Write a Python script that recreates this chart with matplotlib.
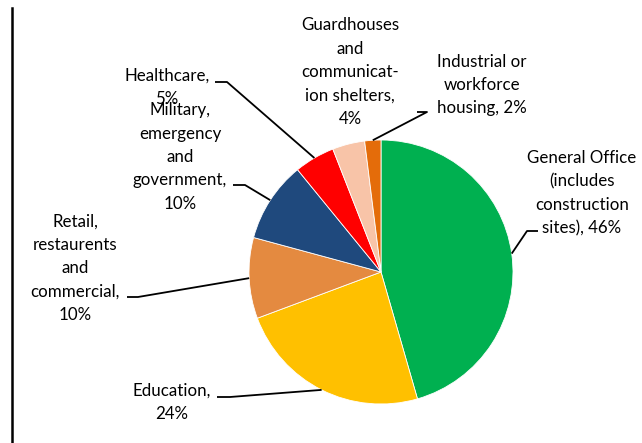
import numpy as np
import matplotlib.pyplot as plt

# Building types and their share of installations (percent)
categories = [
    "General Office\n(includes\nconstruction\nsites)",
    "Education",
    "Retail,\nrestaurents\nand\ncommercial",
    "Military,\nemergency\nand\ngovernment",
    "Healthcare",
    "Guardhouses\nand\ncommunicat-\nion shelters",
    "Industrial or\nworkforce\nhousing",
]
shares = [46, 24, 10, 10, 5, 4, 2]
colors = ["#00B050", "#FFC000", "#E48A40", "#1F497D", "#FF0000", "#F8C4A8", "#E46C0A"]

# Data label text: category name followed by its share
label_texts = [
    "General Office\n(includes\nconstruction\nsites), 46%",
    "Education,\n24%",
    "Retail,\nrestaurents\nand\ncommercial,\n10%",
    "Military,\nemergency\nand\ngovernment,\n10%",
    "Healthcare,\n5%",
    "Guardhouses\nand\ncommunicat-\nion shelters,\n4%",
    "Industrial or\nworkforce\nhousing, 2%",
]

W, H = 642, 443
fig = plt.figure(figsize=(W / 100, H / 100), dpi=100)
ax = fig.add_axes([0, 0, 1, 1])

cx, cy, r = 381, 171, 132
wedges, _ = ax.pie(
    shares, colors=colors, startangle=90, counterclock=False,
    center=(cx, cy), radius=r, frame=True,
    wedgeprops=dict(edgecolor="white", linewidth=0.6),
)
ax.set_xlim(0, W)
ax.set_ylim(0, H)
ax.set_aspect("equal")
ax.axis("off")

# Label layout: text centre, and (optional) elbow start/end of the leader line
label_pos = [(582, 250), (172, 41), (75, 175), (180, 286), (167, 356), (350, 371), (482, 358)]
elbows = [
    ((527, 212), (538, 212)),
    ((230, 46), (217, 46)),
    ((138, 146), (127, 146)),
    ((245, 258), (233, 258)),
    ((227, 361), (215, 361)),
    None,
    ((427, 331), (417, 331)),
]

font = dict(family="Lato", fontsize=12.2, color="black", linespacing=1.56)
for w, txt, pos, elb in zip(wedges, label_texts, label_pos, elbows):
    ax.text(pos[0], pos[1], txt, ha="center", va="center", multialignment="center", **font)
    if elb is None:
        continue
    ang = np.deg2rad((w.theta1 + w.theta2) / 2)
    ex, ey = cx + r * np.cos(ang), cy + r * np.sin(ang)
    (x0, y0), (x1, y1) = elb
    ax.plot([x1, x0, ex], [y1, y0, ey], color="black", lw=1.3,
            solid_capstyle="butt", zorder=3)

# Left border rule
ax.plot([12, 12], [0, H - 8], color="black", lw=1.8)

fig.savefig("out.png", dpi=100)
